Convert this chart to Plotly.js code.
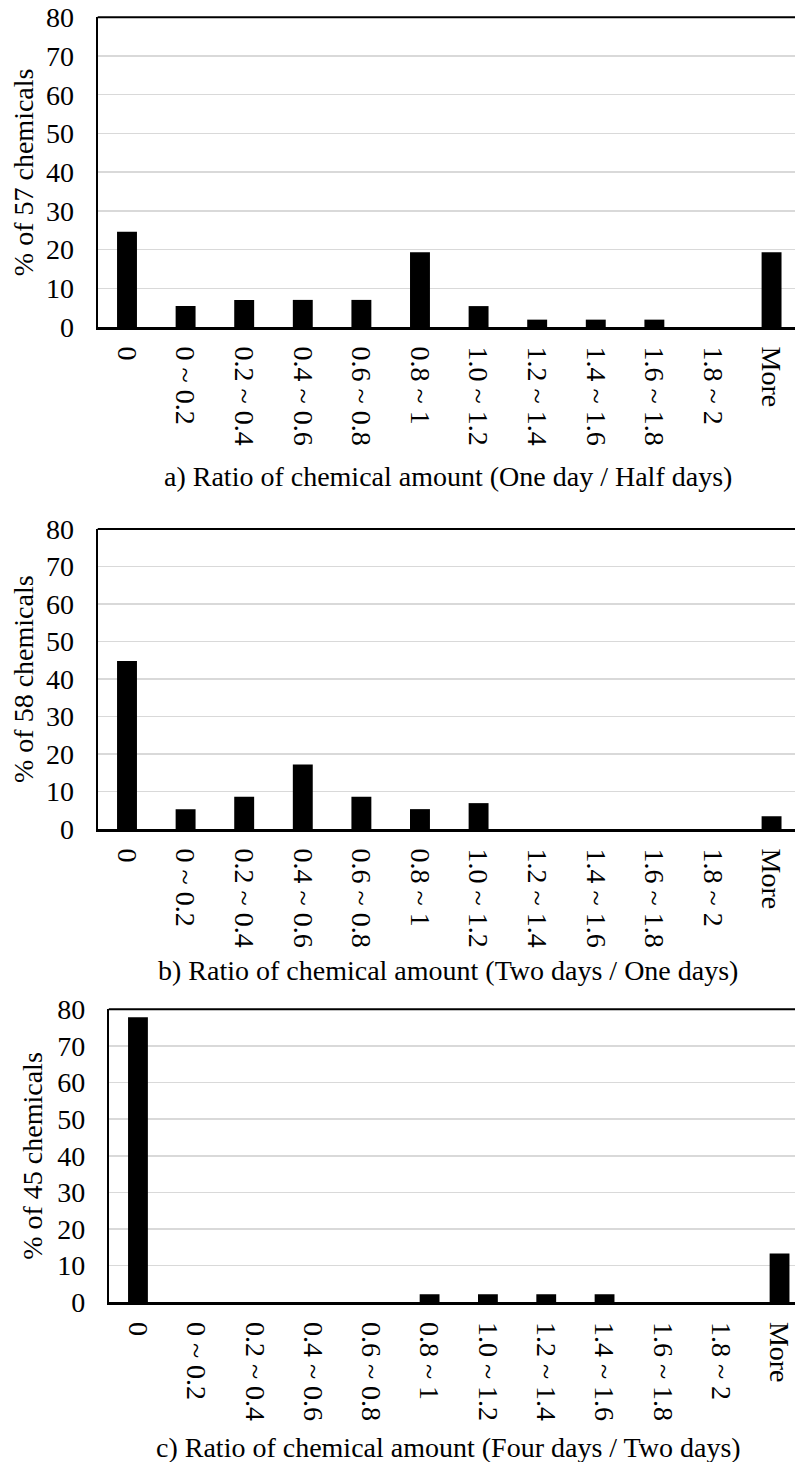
<!DOCTYPE html>
<html>
<head>
<meta charset="utf-8">
<script src="https://cdn.plot.ly/plotly-3.0.1.min.js"></script>
<style>html,body{margin:0;padding:0;background:#fff;}#chart{width:795px;height:1462px;}</style>
</head>
<body>
<div id="chart"></div>
<script>
const categories = ["0", "0 ~ 0.2", "0.2 ~ 0.4", "0.4 ~ 0.6", "0.6 ~ 0.8", "0.8 ~ 1", "1.0 ~ 1.2", "1.2 ~ 1.4", "1.4 ~ 1.6", "1.6 ~ 1.8", "1.8 ~ 2", "More"];
const oneDayHalfDays = [24.6, 5.4, 7.0, 7.0, 7.0, 19.3, 5.4, 1.9, 1.9, 1.9, 0, 19.3];
const twoDaysOneDay = [44.8, 5.3, 8.6, 17.2, 8.6, 5.3, 6.9, 0, 0, 0, 0, 3.4];
const fourDaysTwoDays = [77.8, 0, 0, 0, 0, 2.2, 2.2, 2.2, 2.2, 0, 0, 13.3];

const yTitles = ["% of 57 chemicals", "% of 58 chemicals", "% of 45 chemicals"];
const xTitles = [
  "a) Ratio of chemical amount (One day / Half days)",
  "b) Ratio of chemical amount (Two days / One days)",
  "c) Ratio of chemical amount (Four days / Two days)"
];
const yTicks = [0, 10, 20, 30, 40, 50, 60, 70, 80];

const W = 795, H = 1462;
const FONT = "Liberation Serif, Times New Roman, serif";
const fs = 28;

// pixel geometry of the three panels
const panels = [
  {left: 97.7, top: 17.3, bottom: 327, rangeEnd: 11.4, vals: oneDayHalfDays, ytx: 23, xty: 476},
  {left: 97.7, top: 529, bottom: 829, rangeEnd: 11.4, vals: twoDaysOneDay, ytx: 23, xty: 970},
  {left: 108.8, top: 1009.3, bottom: 1302.3, rangeEnd: 11.265, vals: fourDaysTwoDays, ytx: 33, xty: 1447}
];

const data = [];
const layout = {
  width: W, height: H,
  margin: {l: 0, r: 0, t: 0, b: 0, pad: 0},
  paper_bgcolor: "#fff", plot_bgcolor: "#fff",
  showlegend: false,
  bargap: 0.66,
  font: {family: FONT, size: fs, color: "#000"},
  annotations: [],
  shapes: []
};

panels.forEach((p, i) => {
  const sfx = i === 0 ? "" : String(i + 1);
  const xa = "x" + sfx, ya = "y" + sfx;
  data.push({
    type: "bar", x: categories, y: p.vals, xaxis: xa, yaxis: ya,
    marker: {color: "#000", line: {width: 0}}, hoverinfo: "skip"
  });
  layout["xaxis" + sfx] = {
    domain: [p.left / W, 1],
    anchor: ya,
    type: "category",
    range: [-0.5, p.rangeEnd],
    tickangle: 90,
    ticks: "",
    showgrid: false,
    showline: true, linecolor: "#000", linewidth: 3,
    ticklabelstandoff: 11,
    tickfont: {family: FONT, size: fs, color: "#000"},
    automargin: false,
    fixedrange: true
  };
  layout["yaxis" + sfx] = {
    domain: [1 - p.bottom / H, 1 - p.top / H],
    anchor: xa,
    range: [0, 80],
    tickvals: yTicks,
    ticks: "",
    showgrid: true, gridcolor: "#d9d9d9", gridwidth: 1.5,
    zeroline: false,
    showline: true, linecolor: "#000", linewidth: 2,
    ticklabelstandoff: 16,
    tickfont: {family: FONT, size: fs, color: "#000"},
    automargin: false,
    fixedrange: true
  };
  layout.shapes.push({
    type: "line", xref: xa + " domain", yref: ya + " domain",
    x0: 0, x1: 1, y0: 1, y1: 1, line: {color: "#000", width: 2}
  });
  layout.annotations.push({
    text: yTitles[i], textangle: -90, showarrow: false,
    xref: "paper", yref: "paper",
    x: p.ytx / W, y: 1 - ((p.top + p.bottom) / 2) / H,
    xanchor: "center", yanchor: "middle",
    font: {family: FONT, size: fs, color: "#000"}
  });
  layout.annotations.push({
    text: xTitles[i], showarrow: false,
    xref: "paper", yref: "paper",
    x: 448 / W, y: 1 - p.xty / H,
    xanchor: "center", yanchor: "middle",
    font: {family: FONT, size: fs, color: "#000"}
  });
});

Plotly.newPlot("chart", data, layout, {staticPlot: true, displayModeBar: false});
</script>
</body>
</html>
